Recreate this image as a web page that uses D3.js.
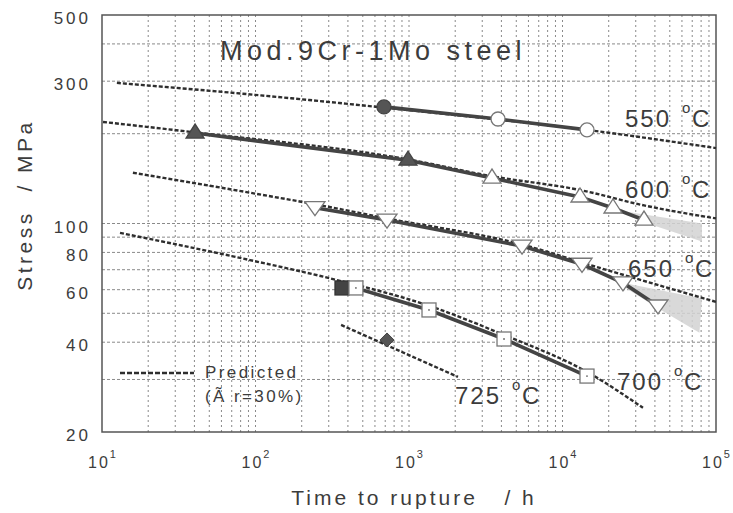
<!DOCTYPE html>
<html><head><meta charset="utf-8">
<script src="https://cdn.jsdelivr.net/npm/d3@7"></script>
<style>
body{margin:0;background:#fff}
svg{display:block}
text{font-family:"Liberation Sans",Arial,sans-serif;fill:#3c3c3c}
</style>
</head><body>
<svg id="c" width="733" height="513"></svg>
<script>
// ---------- data ----------
const xTickValues = [10, 100, 1000, 10000, 100000];
const xTickExp = ["1", "2", "3", "4", "5"];
const yTickValues = [500, 300, 100, 80, 60, 40, 20];
const yGridValues = [30, 40, 50, 60, 70, 80, 90, 100, 200, 300, 400];
const tempLabels = ["550", "600", "650", "700", "725"];
const tempLabelAt = [[25540, 210.6], [25540, 121.7], [26720, 66.2], [22650, 27.7], [1994, 24.8]];

// measured rupture data [time h, stress MPa]
const s550Filled = [[687, 246]];
const s550Open = [[3800, 224], [14440, 206]];
const s600Filled = [[40.4, 201], [985, 163]];
const s600Open = [[3473, 142], [13000, 122.7], [21330, 112.7], [33960, 102.7]];
const s650Open = [[244, 113], [719, 102.7], [5450, 84], [13400, 73], [24780, 63.2], [41900, 52.9]];
const s700Filled = [[366, 60.8]];
const s700Open = [[451, 60.8], [1350, 51.3], [4159, 41], [14440, 30.8]];
const s725Filled = [[719, 40.7]];

// predicted curves
const p550 = [[12.5, 296], [99, 270], [985, 240], [14400, 206], [100000, 179]];
const p600 = [[10.15, 219], [40.4, 202], [985, 164], [3473, 144], [13000, 129.5], [33960, 115], [100000, 104]];
const p650 = [[15.9, 148], [99, 126], [244, 116], [719, 104], [5450, 85], [15100, 72.6], [100000, 54.6]];
const p700 = [[13.1, 93], [92, 75.4], [340, 64.6], [1350, 53], [4159, 42.3], [14440, 31.8], [33440, 24.1]];
const p725 = [[361, 45.7], [2085, 30.6]];

// scatter bands of extrapolation
const band600 = [[25000, 110], [81000, 100], [81000, 87], [33960, 101]];
const band650 = [[22000, 64], [81000, 56], [78000, 43], [41900, 52]];

// ---------- chart ----------
const svg = d3.select("#c");
const x = d3.scaleLog().domain([10, 100000]).range([102, 716]);
const y = d3.scaleLog().domain([20, 500]).range([432, 15]);

const g = svg.append("g");

// grid
const vGrid = [];
for (let k = 1; k <= 4; k++) for (let m = 1; m <= 9; m++) { const v = m * Math.pow(10, k); if (v > 10 && v < 100000) vGrid.push(v); }
g.selectAll("line.vg").data(vGrid).join("line")
  .attr("x1", d => x(d)).attr("x2", d => x(d)).attr("y1", y(500)).attr("y2", y(20))
  .attr("stroke", "#8a8a8a").attr("stroke-width", 1).attr("stroke-dasharray", "2,3");
g.selectAll("line.hg").data(yGridValues).join("line")
  .attr("x1", x(10)).attr("x2", x(100000)).attr("y1", d => y(d)).attr("y2", d => y(d))
  .attr("stroke", "#8a8a8a").attr("stroke-width", 1).attr("stroke-dasharray", "3,2");

// bands
const bandLine = d3.line().x(d => x(d[0])).y(d => y(d[1]));
[band600, band650].forEach(b => {
  g.append("path").attr("d", bandLine(b) + "Z").attr("fill", "#d2d2d2").attr("opacity", 0.85);
});

// frame
g.append("rect").attr("x", x(10)).attr("y", y(500)).attr("width", x(100000) - x(10)).attr("height", y(20) - y(500))
  .attr("fill", "none").attr("stroke", "#555").attr("stroke-width", 1.5);

// predicted dashed
const curve = d3.line().x(d => x(d[0])).y(d => y(d[1])).curve(d3.curveMonotoneX);
[p550, p600, p650, p700, p725].forEach(p => {
  g.append("path").attr("d", curve(p)).attr("fill", "none").attr("stroke", "#2e2e2e")
    .attr("stroke-width", 2.4).attr("stroke-dasharray", "4,2");
});

// solid experimental lines
const lin = d3.line().x(d => x(d[0])).y(d => y(d[1]));
[s550Filled.concat(s550Open), s600Filled.concat(s600Open), s650Open, s700Filled.concat(s700Open)].forEach(s => {
  g.append("path").attr("d", lin(s)).attr("fill", "none").attr("stroke", "#444").attr("stroke-width", 3.6);
});

// markers
function circle(sel, data, filled) {
  sel.selectAll(null).data(data).join("circle").attr("cx", d => x(d[0])).attr("cy", d => y(d[1])).attr("r", 7)
    .attr("fill", filled ? "#555" : "#fff").attr("stroke", filled ? "#444" : "#777").attr("stroke-width", 1.3);
}
function triUp(sel, data, filled) {
  sel.selectAll(null).data(data).join("path")
    .attr("d", d => { const cx = x(d[0]), cy = y(d[1]); return `M${cx - 9},${cy + 5}L${cx + 9},${cy + 5}L${cx},${cy - 9}Z`; })
    .attr("fill", filled ? "#555" : "#fff").attr("stroke", filled ? "#444" : "#777").attr("stroke-width", 1.3);
}
function triDown(sel, data) {
  sel.selectAll(null).data(data).join("path")
    .attr("d", d => { const cx = x(d[0]), cy = y(d[1]); return `M${cx - 10},${cy - 6}L${cx + 10},${cy - 6}L${cx},${cy + 8}Z`; })
    .attr("fill", "#fff").attr("stroke", "#777").attr("stroke-width", 1.3);
}
function square(sel, data, filled) {
  sel.selectAll(null).data(data).join("rect").attr("x", d => x(d[0]) - 7).attr("y", d => y(d[1]) - 7)
    .attr("width", 14).attr("height", 14)
    .attr("fill", filled ? "#444" : "#fff").attr("stroke", filled ? "#333" : "#777").attr("stroke-width", 1.3);
  if (!filled) sel.selectAll(null).data(data).join("circle").attr("cx", d => x(d[0])).attr("cy", d => y(d[1])).attr("r", 0.9).attr("fill", "#666");
}
function diamond(sel, data) {
  sel.selectAll(null).data(data).join("path")
    .attr("d", d => { const cx = x(d[0]), cy = y(d[1]); return `M${cx},${cy - 7}L${cx + 7},${cy}L${cx},${cy + 7}L${cx - 7},${cy}Z`; })
    .attr("fill", "#555").attr("stroke", "#444").attr("stroke-width", 1);
}
const m = g.append("g");
circle(m.append("g"), s550Filled, true);
circle(m.append("g"), s550Open, false);
triUp(m.append("g"), s600Filled, true);
triUp(m.append("g"), s600Open, false);
triDown(m.append("g"), s650Open);
square(m.append("g"), s700Filled, true);
square(m.append("g"), s700Open, false);
diamond(m.append("g"), s725Filled);

// temperature labels
tempLabels.forEach((t, i) => {
  const px = x(tempLabelAt[i][0]), py = y(tempLabelAt[i][1]);
  const tg = g.append("g");
  tg.append("text").attr("x", px).attr("y", py).attr("font-size", 24).attr("letter-spacing", 2).text(t);
  tg.append("text").attr("x", px + 57).attr("y", py - 14).attr("font-size", 15).text("o");
  tg.append("text").attr("x", px + 67).attr("y", py).attr("font-size", 24).text("C");
});

// title
g.append("text").attr("x", 220).attr("y", 60).attr("font-size", 27).attr("letter-spacing", 4.5).text("Mod.9Cr-1Mo steel");

// legend
g.append("line").attr("x1", 120).attr("x2", 194).attr("y1", 373).attr("y2", 373)
  .attr("stroke", "#2e2e2e").attr("stroke-width", 2.4).attr("stroke-dasharray", "5,2");
g.append("text").attr("x", 205).attr("y", 378).attr("font-size", 17).attr("letter-spacing", 2.4).text("Predicted");
g.append("text").attr("x", 205).attr("y", 402).attr("font-size", 17).attr("letter-spacing", 2.4).text("(Ã r=30%)");

// y tick labels
g.selectAll("text.yt").data(yTickValues).join("text")
  .attr("x", 91).attr("y", d => y(d) + 9).attr("text-anchor", "end")
  .attr("font-size", 17).attr("letter-spacing", 3).text(d => d);

// x tick labels
xTickValues.forEach((v, i) => {
  const t = g.append("text").attr("x", x(v) - 14).attr("y", 468).attr("font-size", 16).attr("letter-spacing", 2);
  t.append("tspan").text("10");
  t.append("tspan").attr("dy", -10).attr("font-size", 11).text(xTickExp[i]);
});

// axis titles
g.append("text").attr("transform", "translate(32,205) rotate(-90)").attr("text-anchor", "middle")
  .attr("font-size", 21).attr("letter-spacing", 3.5).attr("xml:space", "preserve").text("Stress  / MPa");
g.append("text").attr("x", 414).attr("y", 505).attr("text-anchor", "middle")
  .attr("font-size", 21).attr("letter-spacing", 3).attr("xml:space", "preserve").text("Time to rupture   / h");
</script>
</body></html>
